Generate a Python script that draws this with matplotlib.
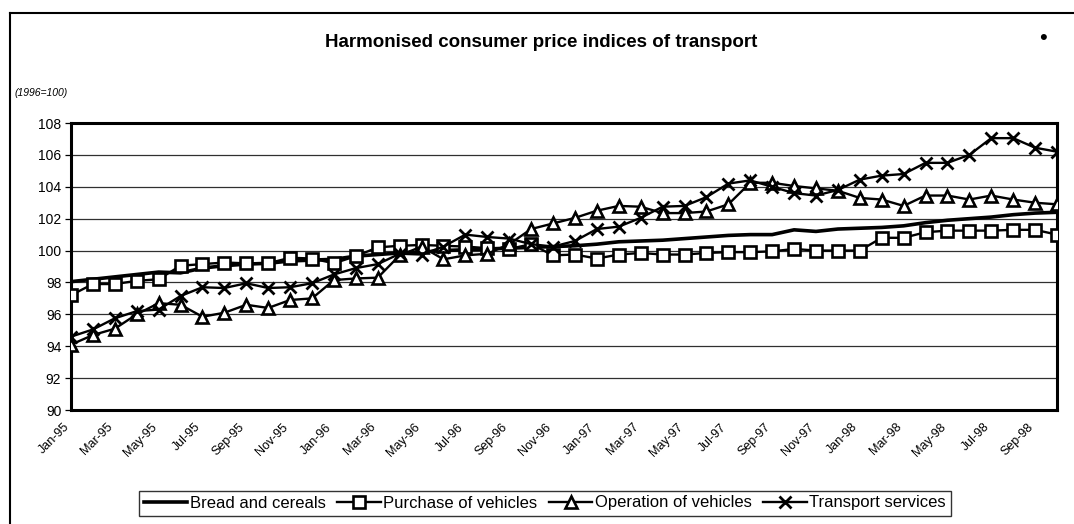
import matplotlib
matplotlib.use("Agg")
import matplotlib.pyplot as plt
from matplotlib.lines import Line2D
import matplotlib.transforms as mtransforms
import numpy as np

plt.rcParams['font.family'] = ['Liberation Sans', 'DejaVu Sans']

months = ['Jan', 'Feb', 'Mar', 'Apr', 'May', 'Jun', 'Jul', 'Aug', 'Sep', 'Oct', 'Nov', 'Dec']
years = ['95', '96', '97', '98']
periods = [f"{m}-{y}" for y in years for m in months][:46]  # Jan-95 .. Oct-98

bread = [98.05, 98.2, 98.35, 98.5, 98.65, 98.6, 98.9, 99.05, 99.15, 99.2, 99.35, 99.4,
         99.45, 99.65, 99.75, 99.85, 99.9, 100.0, 100.05, 100.1, 100.15, 100.2, 100.25, 100.3,
         100.4, 100.55, 100.6, 100.65, 100.75, 100.85, 100.95, 101.0, 101.0, 101.3, 101.2, 101.35,
         101.4, 101.45, 101.55, 101.75, 101.9, 102.0, 102.1, 102.25, 102.35, 102.4]
purchase = [97.2, 97.9, 97.9, 98.1, 98.2, 99.05, 99.15, 99.25, 99.2, 99.2, 99.55, 99.5,
            99.2, 99.65, 100.2, 100.3, 100.35, 100.3, 100.25, 100.15, 100.1, 100.4, 99.7, 99.75,
            99.5, 99.75, 99.85, 99.75, 99.75, 99.85, 99.9, 99.9, 99.95, 100.1, 100.0, 100.0,
            100.0, 100.8, 100.8, 101.15, 101.25, 101.25, 101.25, 101.3, 101.3, 101.0]
operation = [94.1, 94.7, 95.1, 96.0, 96.7, 96.6, 95.85, 96.1, 96.6, 96.4, 96.9, 97.0,
             98.15, 98.25, 98.3, 99.7, 100.25, 99.45, 99.7, 99.8, 100.4, 101.35, 101.7, 102.05,
             102.5, 102.8, 102.75, 102.35, 102.35, 102.45, 102.9, 104.25, 104.25, 104.05, 103.9, 103.75,
             103.3, 103.2, 102.8, 103.45, 103.45, 103.2, 103.45, 103.2, 103.0, 102.9]
transport = [94.6, 95.05, 95.75, 96.2, 96.3, 97.15, 97.7, 97.65, 97.95, 97.65, 97.7, 97.95,
             98.5, 98.9, 99.15, 99.8, 99.75, 100.25, 101.0, 100.85, 100.75, 100.4, 100.25, 100.6,
             101.35, 101.5, 102.05, 102.75, 102.8, 103.35, 104.2, 104.4, 104.0, 103.6, 103.45, 103.8,
             104.45, 104.7, 104.8, 105.5, 105.5, 106.0, 107.05, 107.05, 106.45, 106.2]

series_names = ['Bread and cereals', 'Purchase of vehicles', 'Operation of vehicles', 'Transport services']
y_ticks = [90, 92, 94, 96, 98, 100, 102, 104, 106, 108]

W, H = 1074, 524
fig = plt.figure(figsize=(W / 100, H / 100), dpi=100)
ax = fig.add_axes([71 / W, 1 - 410 / H, (1057 - 71) / W, (410 - 123) / H])

x = np.arange(len(periods))
ax.plot(x, bread, color='black', lw=2.6, label=series_names[0], zorder=3)
ax.plot(x, purchase, color='black', lw=1.7, marker='s', ms=8, mfc='white', mec='black',
        mew=1.9, label=series_names[1], zorder=4)
ax.plot(x, operation, color='black', lw=1.7, marker='^', ms=8, mfc='white', mec='black',
        mew=1.9, label=series_names[2], zorder=5)
ax.plot(x, transport, color='black', lw=1.7, marker='x', ms=8.5, mec='black',
        mew=2.0, label=series_names[3], zorder=6)

ax.set_xlim(0, len(periods) - 1)
ax.set_ylim(90, 108)
ax.set_yticks(y_ticks)
ax.set_yticklabels([str(v) for v in y_ticks], fontsize=10)
ax.yaxis.grid(True, color='#303030', lw=0.9)
ax.set_axisbelow(True)
ax.tick_params(axis='y', length=4, width=0.9, pad=3)

ax.set_xticks(x[::2])
ax.set_xticklabels(periods[::2], rotation=45, ha='right', rotation_mode='anchor', fontsize=9)
ax.tick_params(axis='x', length=0, pad=8)
shift = mtransforms.ScaledTranslation(-8 / 100, 0, fig.dpi_scale_trans)
for lbl in ax.get_xticklabels():
    lbl.set_transform(lbl.get_transform() + shift)

for s in ax.spines.values():
    s.set_linewidth(2.2)
    s.set_color('black')

fig.text(541 / W, 1 - 43 / H, 'Harmonised consumer price indices of transport',
         ha='center', va='center', fontsize=13.5, fontweight='bold')
fig.text(1043 / W, 1 - 38 / H, '\u2022', ha='center', va='center', fontsize=16)
fig.text(15 / W, 1 - 93 / H, '(1996=100)', ha='left', va='center', fontsize=7.5, style='italic')

# outer frame (top and left edges visible)
fig.add_artist(Line2D([9.5 / W, 9.5 / W], [0, 1 - 13 / H], transform=fig.transFigure,
                      color='black', lw=1.5))
fig.add_artist(Line2D([9.5 / W, 1], [1 - 13 / H, 1 - 13 / H], transform=fig.transFigure,
                      color='black', lw=1.5))

leg = fig.legend(loc='center', bbox_to_anchor=(545 / W, 1 - 503 / H), ncol=4, fontsize=12,
                 frameon=True, fancybox=False, edgecolor='black', handlelength=2.6,
                 handletextpad=0.15, columnspacing=0.7, borderpad=0.3, borderaxespad=0)
leg.get_frame().set_linewidth(1.0)

fig.savefig('out.png', dpi=100)
